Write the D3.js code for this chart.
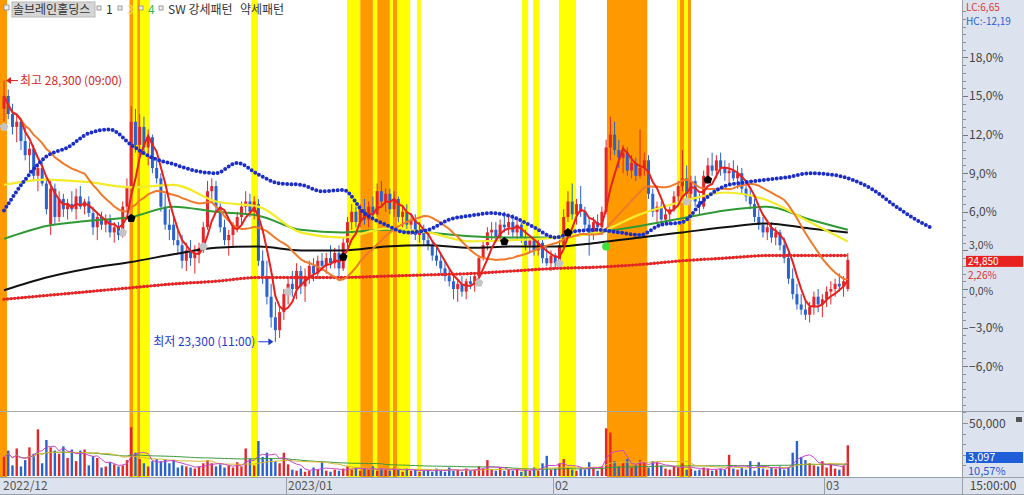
<!DOCTYPE html>
<html><head><meta charset="utf-8">
<script src="https://cdn.jsdelivr.net/npm/d3@7"></script>
<style>
body{margin:0;background:#fff;}
svg{display:block;}
text{font-family:"Liberation Sans Narrow","Noto Sans CJK KR","Liberation Sans",sans-serif;}
</style>
</head><body>
<svg id="c" width="1024" height="495"></svg>
<script>
// ---------- DATA (percent change vs. base 24,300) ----------
const opens=[14.0,15.0,13.6,12.6,13.0,11.5,10.4,10.9,8.8,9.4,8.2,5.0,7.8,5.6,7.0,6.2,6.6,6.2,7.2,6.4,6.8,5.9,4.8,5.6,5.0,5.4,4.4,4.8,4.2,6.4,
8.0,13.0,11.2,12.6,11.0,11.8,9.4,8.6,6.4,5.0,5.0,3.8,3.4,2.2,3.0,2.4,2.8,3.2,4.8,7.6,8.0,6.4,4.8,3.8,4.2,4.8,5.6,6.4,6.8,6.0,
6.6,2.2,1.0,-0.6,-2.2,-3.2,-1.8,-0.4,0.4,0.0,1.4,0.2,1.0,1.8,1.2,2.2,1.8,2.4,2.0,2.8,1.6,3.6,5.2,6.0,5.2,6.2,5.4,6.4,5.8,7.6,
6.8,7.4,6.2,7.0,5.6,6.0,5.0,5.4,4.2,4.6,3.8,3.4,2.6,2.2,1.6,1.0,0.6,0.0,0.4,-0.2,0.6,0.4,1.0,2.4,3.4,4.4,4.6,4.0,5.0,4.8,
5.2,4.4,5.0,4.0,3.4,3.8,3.0,3.6,2.4,2.0,2.6,2.0,3.4,5.6,6.8,5.8,6.6,6.0,5.0,4.2,5.2,4.8,6.0,11.0,12.0,10.8,10.2,10.6,9.2,9.8,
8.8,9.4,10.0,7.4,6.0,6.4,5.4,5.8,6.2,7.2,8.0,8.6,7.4,8.4,6.8,6.4,8.8,9.6,9.2,10.0,9.4,9.0,9.2,8.6,9.0,7.8,7.2,6.6,5.6,5.0,
4.4,4.8,4.0,4.4,3.4,2.4,0.8,-0.4,-1.2,-1.6,-2.0,-1.4,-0.6,-1.2,-0.8,-0.2,0.0,0.4,0.2,0.0];
const highs=[16.2,15.5,14.4,13.6,13.3,12.6,11.4,11.2,9.8,10.0,8.6,8.4,8.2,7.6,7.4,7.0,7.6,7.8,8.0,7.0,7.2,6.4,6.0,6.0,5.8,5.8,5.2,5.2,6.8,8.6,
14.2,14.0,13.6,13.4,12.4,12.0,10.0,9.0,7.4,6.2,5.6,4.6,4.2,3.6,3.8,3.4,3.6,5.2,8.4,8.6,8.4,6.8,5.4,4.6,5.2,6.0,6.8,7.6,7.4,7.2,
7.0,3.0,2.2,0.4,-1.0,-1.4,0.0,0.8,1.4,2.0,1.8,1.6,2.2,2.4,2.6,2.8,2.8,3.4,3.2,3.4,4.0,5.6,6.6,6.4,6.6,7.0,6.8,7.2,8.2,8.4,
7.8,7.8,7.6,7.2,6.4,6.6,5.8,5.8,5.2,5.0,4.4,3.8,3.4,2.8,2.2,1.6,1.2,0.8,1.0,0.8,1.0,1.2,2.6,3.8,4.8,5.2,5.2,5.4,6.0,5.6,
5.8,5.4,5.2,4.6,4.2,4.0,4.0,3.8,3.2,3.0,2.8,3.8,6.2,7.6,8.2,7.0,8.0,6.4,5.6,5.6,5.8,6.4,11.6,13.4,13.0,11.6,11.2,11.0,10.4,10.2,
12.4,10.6,10.4,7.8,6.8,6.8,6.2,6.4,7.6,8.4,10.8,9.6,8.8,8.8,7.4,9.2,10.2,10.6,10.4,10.6,10.0,9.8,10.0,9.6,9.4,8.4,7.8,7.0,6.2,5.6,
5.2,5.2,4.8,4.6,4.0,2.8,1.6,0.4,-0.4,-0.8,-1.0,-0.2,0.0,-0.4,0.2,0.6,0.8,1.2,1.0,2.8];
const lows=[13.0,13.2,12.0,11.4,10.8,10.0,9.0,8.4,7.6,8.0,5.8,4.2,5.0,5.2,5.6,5.4,6.0,5.4,6.2,5.8,5.6,4.2,3.8,4.6,4.4,4.0,3.6,3.8,4.0,6.0,
7.4,10.6,10.4,10.4,9.6,9.0,8.2,6.0,4.6,3.8,3.4,2.8,1.6,1.4,1.8,1.2,2.0,2.8,4.6,6.8,6.0,4.4,3.4,2.6,3.2,4.4,5.0,5.8,5.6,5.4,
1.8,0.4,-1.2,-3.0,-4.1,-3.8,-2.4,-1.2,-0.6,-0.8,-0.4,-1.0,0.4,0.6,0.8,1.4,1.2,1.6,1.6,1.0,1.4,3.2,4.6,4.8,4.8,5.0,4.8,5.4,5.6,6.4,
6.0,5.8,5.6,5.2,4.8,4.6,4.2,3.8,3.6,3.4,3.0,2.2,1.8,1.2,0.6,0.2,-0.8,-1.0,-0.6,-0.8,0.0,-0.2,0.8,2.2,3.0,3.8,3.6,3.8,4.4,4.2,
4.0,3.8,3.6,3.0,2.8,2.6,2.6,2.0,1.8,1.4,1.6,1.8,3.2,5.2,5.4,5.0,5.6,4.6,2.6,3.8,4.4,4.2,5.8,10.0,10.4,9.4,9.0,8.8,8.6,8.4,
8.6,8.8,7.0,5.6,5.2,5.0,5.0,5.0,6.0,6.6,7.6,7.0,6.8,6.4,5.8,6.2,8.4,8.8,8.6,8.8,8.4,8.2,8.4,7.8,7.4,6.8,6.2,5.2,4.6,4.0,
3.8,3.6,3.4,3.0,2.0,0.4,-0.8,-1.6,-2.0,-2.4,-2.6,-2.0,-1.8,-2.2,-1.4,-1.2,-0.6,-0.2,-0.6,-0.2];
const closes=[15.0,13.6,12.6,13.0,11.5,10.4,10.9,8.8,9.4,8.2,6.2,7.8,5.6,7.0,6.2,6.6,6.2,7.2,6.4,6.8,5.9,4.8,5.6,5.0,5.4,4.4,4.8,4.2,6.4,8.0,
13.0,11.2,12.6,11.0,11.8,9.4,8.6,6.4,5.0,4.6,3.8,3.4,2.2,3.0,2.4,2.8,3.2,4.8,7.6,8.0,6.4,4.8,3.8,4.2,4.8,5.6,6.4,6.8,6.0,6.8,
2.2,1.0,-0.6,-2.2,-3.2,-1.8,-0.4,0.4,0.0,1.4,0.2,1.0,1.8,1.2,2.2,1.8,2.4,2.0,2.8,1.6,3.6,5.2,6.0,5.2,6.2,5.4,6.4,5.8,7.6,6.8,
7.4,6.2,7.0,5.6,6.0,5.0,5.4,4.2,4.6,3.8,3.4,2.6,2.2,1.6,1.0,0.6,0.0,0.4,-0.2,0.6,0.4,1.0,2.4,3.4,4.4,4.6,4.0,5.0,4.8,5.2,
4.4,5.0,4.0,3.4,3.8,3.0,3.6,2.4,2.0,2.6,2.0,3.4,5.6,6.8,5.8,6.6,6.0,5.0,4.2,5.2,4.8,6.0,11.0,12.0,10.8,10.2,10.6,9.2,9.8,8.8,
9.4,10.0,7.4,6.0,6.4,5.4,5.8,6.2,7.2,8.0,8.6,7.4,8.4,6.8,6.4,8.8,9.6,9.2,10.0,9.4,9.0,9.2,8.6,9.0,7.8,7.2,6.6,5.6,5.0,4.4,
4.8,4.0,4.4,3.4,2.4,0.8,-0.4,-1.2,-1.6,-2.0,-1.4,-0.6,-1.2,-0.8,-0.2,0.0,0.4,0.2,0.6,2.26];
const volumes=[18000,24000,10000,26000,9000,15000,27000,21000,44000,12000,34000,27000,24000,21000,28000,17000,25000,14000,24000,25000,10000,19000,17000,8000,9000,13000,11000,9000,10000,15000,
46000,22000,16000,12000,9000,14000,16000,14000,16000,12000,15000,8000,10000,9000,8000,7000,9000,12000,15000,12000,9000,11000,8000,10000,8000,13000,9000,26000,16000,10000,
33000,18000,22000,17000,14000,12000,22000,11000,6000,5000,7000,4000,5000,8000,6000,13000,5000,4000,6000,5000,7000,9000,6000,8000,5000,7000,6000,9000,5000,7000,
6000,5000,8000,6000,4000,7000,5000,6000,4000,5000,6000,4000,7000,5000,4000,8000,5000,6000,4000,7000,5000,6000,9000,7000,15000,6000,5000,8000,5000,6000,
5000,7000,4000,6000,5000,8000,5000,12000,19000,6000,7000,12000,16000,8000,6000,5000,7000,6000,13000,8000,5000,9000,45000,41000,14000,9000,12000,16000,8000,10000,
15000,13000,8000,14000,13000,10000,7000,6000,9000,8000,12000,6000,7000,5000,6000,8000,7000,5000,6000,7000,6000,20000,7000,6000,8000,6000,14000,5000,13000,7000,
6000,8000,7000,9000,6000,8000,22000,33000,18000,15000,12000,10000,9000,14000,8000,12000,7000,6000,10000,29000];

// slow moving averages, at these candle indices
const slowIdx=[0,10,20,30,40,50,60,70,80,90,100,110,120,130,140,150,160,170,180,190,199];
const yellowMA=[8.1,8.5,8.3,7.9,8.1,6.8,6.4,4.4,4.0,4.7,4.4,3.7,3.8,4.0,4.4,5.8,6.8,7.5,6.9,5.2,3.7];
const greenMA=[3.9,4.9,5.3,5.6,6.4,6.0,5.7,4.6,4.4,4.6,4.4,4.1,4.0,4.0,4.4,4.9,5.5,6.1,6.4,5.4,4.6];
const blackMA=[-0.1,0.9,1.6,2.1,2.7,3.2,3.3,3.0,3.0,3.3,3.4,3.2,3.3,3.3,3.6,4.0,4.4,4.8,5.1,4.7,4.4];
const redDotMA=[-0.8,-0.5,-0.2,0.1,0.4,0.6,0.9,0.9,0.9,1.0,1.1,1.2,1.4,1.6,1.7,1.9,2.2,2.4,2.6,2.6,2.6];
const blueIdx=[0,5,10,15,20,25,30,35,40,45,50,55,60,65,70,75,80,85,90,95,100,105,110,115,120,125,130,135,140,145,150,155,160,165,170,175,180,185,190,195,200,205,210,215,219];
const blueDot=[6.1,8.5,10.3,11.0,12.1,12.4,11.2,10.2,9.7,9.2,9.0,9.8,8.9,8.2,8.1,7.6,7.7,5.9,5.0,4.4,4.6,5.4,5.7,5.9,5.6,4.8,4.0,4.5,4.6,4.4,4.2,5.0,5.2,6.9,8.0,8.3,8.5,8.7,9.0,8.9,8.5,7.7,6.5,5.4,4.7];

// signal periods (candle index ranges)
const orangeBands=[[-1,0.7],[29.6,30.5],[31.4,32.1],[84,87],[88,91],[91.7,92.7],[142.2,151.7],[159.4,160.4],[161.3,162]];
const yellowBands=[[30.5,31.4],[32.1,34.4],[58.3,59.9],[80.9,84],[87,88],[91,91.7],[92.7,95.8],[97.4,98.3],[122.2,123.6],[124.8,126.2],[130.9,134.9],[158.7,159.4],[160.4,161.3]];

// pattern markers
const strongIdx=[30,80,118,133,166], strongVal=[5.5,2.5,3.7,4.4,8.5];
const weakIdx=[0,28,47,67,112,131,161], weakVal=[12.6,4.4,3.3,-0.2,0.5,2.0,6.8];
const greenSigIdx=[142], greenSigVal=[3.3];

// axis labels
const pctTicks=[-6,-3,0,3,6,9,12,15,18];
const dateLabels=["2022/12","2023/01","02","03"];
const dateIdx=[-0.9,66.5,129.5,193.4];
const basePrice=24300, lastPrice=24850, lastPct="2,26%", lastVol="3,097", lastVolPct="10,57%";
const hiText="최고 28,300 (09:00)", loText="최저 23,300 (11:00)";
const title="솔브레인홀딩스";

// ---------- DRAW ----------
const svg=d3.select("#c");
const W=1024,H=495, PR=962, MB=411, VB=476, AX=477;
const N=closes.length;
const x=d3.scaleLinear().domain([0,226.4]).range([4,964]);
const y=d3.scaleLinear().domain([-9.48,22.46]).range([MB,0]);
const yv=d3.scaleLinear().domain([0,50000]).range([VB,423]);
const UP="#e4262a", DN="#2a62d0";
const col=i=>closes[i]>=opens[i]?UP:DN;

const defs=svg.append("defs");
defs.append("clipPath").attr("id","cm").append("rect").attr("x",0).attr("y",0).attr("width",PR).attr("height",MB);
defs.append("clipPath").attr("id","cv").append("rect").attr("x",0).attr("y",MB).attr("width",PR).attr("height",VB-MB+1);
defs.append("clipPath").attr("id","ca").append("rect").attr("x",0).attr("y",0).attr("width",PR).attr("height",AX);

svg.append("rect").attr("width",W).attr("height",H).attr("fill","#fff");

// bands
const gb=svg.append("g").attr("clip-path","url(#ca)");
gb.selectAll("rect.o").data(orangeBands).join("rect").attr("x",d=>x(d[0])).attr("width",d=>x(d[1])-x(d[0]))
  .attr("y",0).attr("height",AX).attr("fill","#ff9900");
gb.selectAll("rect.y").data(yellowBands).join("rect").attr("x",d=>x(d[0])).attr("width",d=>x(d[1])-x(d[0]))
  .attr("y",0).attr("height",AX).attr("fill","#ffff00");

// panel separator
svg.append("line").attr("x1",0).attr("x2",PR).attr("y1",MB+0.5).attr("y2",MB+0.5).attr("stroke","#a8a8a8");

// candles
const gm=svg.append("g").attr("clip-path","url(#cm)");
const idx=d3.range(N);
gm.selectAll("line.w").data(idx).join("line").attr("x1",i=>x(i)).attr("x2",i=>x(i))
  .attr("y1",i=>y(highs[i])).attr("y2",i=>y(lows[i])).attr("stroke",col).attr("stroke-width",1);
gm.selectAll("rect.b").data(idx).join("rect").attr("x",i=>x(i)-1.5).attr("width",3)
  .attr("y",i=>y(Math.max(opens[i],closes[i])))
  .attr("height",i=>Math.max(1,Math.abs(y(opens[i])-y(closes[i])))).attr("fill",col);

// moving averages
function ma(arr,n){return arr.map((v,i)=>{const s=arr.slice(Math.max(0,i-n+1),i+1);return d3.mean(s);});}
const ma5=ma(closes,5), ma20=ma(closes,20);
const lineIdx=(ix,vals,curve)=>d3.line().x((d,k)=>x(ix[k])).y(d=>y(d)).curve(curve||d3.curveMonotoneX)(vals);
gm.append("path").attr("d",lineIdx(slowIdx,redDotMA)).attr("fill","none").attr("stroke","#e52626").attr("stroke-width",1.6);
gm.append("path").attr("d",lineIdx(slowIdx,redDotMA)).attr("fill","none").attr("stroke","#e52626").attr("stroke-width",3.4)
  .attr("stroke-linecap","round").attr("stroke-dasharray","0 3.6");
gm.append("path").attr("d",lineIdx(slowIdx,blackMA)).attr("fill","none").attr("stroke","#111").attr("stroke-width",2);
gm.append("path").attr("d",lineIdx(slowIdx,greenMA)).attr("fill","none").attr("stroke","#2f9a35").attr("stroke-width",2);
gm.append("path").attr("d",lineIdx(slowIdx,yellowMA)).attr("fill","none").attr("stroke","#f4ec2a").attr("stroke-width",2.2);
gm.append("path").attr("d",lineIdx(idx,ma20,d3.curveLinear)).attr("fill","none").attr("stroke","#f07a2a").attr("stroke-width",2);
gm.append("path").attr("d",lineIdx(idx,ma5,d3.curveLinear)).attr("fill","none").attr("stroke","#e8201e").attr("stroke-width",2);
gm.append("path").attr("d",lineIdx(blueIdx,blueDot)).attr("fill","none").attr("stroke","#1c2ec6").attr("stroke-width",4)
  .attr("stroke-linecap","round").attr("stroke-dasharray","0 4.3");

// markers
const penta="M0,-4.5L4.3,-1.2L2.7,3.8L-2.7,3.8L-4.3,-1.2Z";
gm.selectAll("path.s").data(strongIdx).join("path").attr("d",penta)
  .attr("transform",(d,k)=>`translate(${x(d)},${y(strongVal[k])})`).attr("fill","#000");
gm.selectAll("path.wk").data(weakIdx).join("path").attr("d",penta)
  .attr("transform",(d,k)=>`translate(${x(d)},${y(weakVal[k])})`).attr("fill","#c4c4c4");
gm.selectAll("circle.g").data(greenSigIdx).join("circle").attr("cx",d=>x(d)).attr("cy",(d,k)=>y(greenSigVal[k]))
  .attr("r",4).attr("fill","#3ee03e");

// high / low annotations
const hiI=d3.maxIndex(highs), loI=d3.minIndex(lows);
const hy=y(highs[hiI]), hx=x(hiI)+2;
svg.append("line").attr("x1",hx+1).attr("x2",hx+12).attr("y1",hy).attr("y2",hy).attr("stroke","#e02020");
svg.append("path").attr("d",`M${hx},${hy}l5,-3.5l0,7z`).attr("fill","#e02020");
svg.append("text").attr("x",hx+14).attr("y",hy+4.5).attr("font-size",12).attr("fill","#d42828").text(hiText);
const ly=y(lows[loI]), lx=x(loI)-2;
svg.append("line").attr("x1",lx-15).attr("x2",lx-2).attr("y1",ly).attr("y2",ly).attr("stroke","#1a3ad0");
svg.append("path").attr("d",`M${lx},${ly}l-5,-3.5l0,7z`).attr("fill","#1a3ad0");
svg.append("text").attr("x",lx-18).attr("y",ly+4.5).attr("text-anchor","end").attr("font-size",12).attr("fill","#1a3ad0").text(loText);

// volume
const gv=svg.append("g").attr("clip-path","url(#cv)");
gv.selectAll("rect.v").data(idx).join("rect").attr("x",i=>x(i)-1.2).attr("width",2.4)
  .attr("y",i=>yv(volumes[i])).attr("height",i=>VB-yv(volumes[i])).attr("fill",col);
const vline=(vals,c)=>gv.append("path").attr("d",d3.line().x((d,k)=>x(k)).y(d=>yv(d))(vals))
  .attr("fill","none").attr("stroke",c).attr("stroke-width",1);
vline(ma(volumes,60),"#3b9a3b");
vline(ma(volumes,20),"#d8b830");
vline(ma(volumes,5),"#cc44cc");

// header
svg.append("rect").attr("x",4).attr("y",5).attr("width",5).attr("height",5).attr("fill","#eee").attr("stroke","#888").attr("stroke-width",0.8);
svg.append("rect").attr("x",12).attr("y",2).attr("width",83).attr("height",15).attr("fill","#d6d6d6").attr("stroke","#b8b8b8");
svg.append("text").attr("x",13).attr("y",14).attr("font-size",12).attr("fill","#333").attr("font-family","Noto Sans CJK KR").text(title);
const hdr=[{t:"1",c:"#222",bx:97},{t:"3",c:"#e8e070",bx:118},{t:"4",c:"#33b84a",bx:139},{t:"SW 강세패턴",c:"#333",bx:159},{t:"약세패턴",c:"#333",bx:null,tx:240}];
hdr.forEach(h=>{
  if(h.bx!==null){svg.append("rect").attr("x",h.bx).attr("y",6).attr("width",4).attr("height",4).attr("fill","#eee").attr("stroke","#888").attr("stroke-width",0.8);}
  svg.append("text").attr("x",h.tx||h.bx+9).attr("y",14).attr("font-size",12).attr("fill",h.c).text(h.t);
});

// right axis panel
svg.append("rect").attr("x",PR+1).attr("y",0).attr("width",W-PR-1).attr("height",H).attr("fill","#dde3ee");
svg.append("rect").attr("x",0).attr("y",AX).attr("width",PR+1).attr("height",H-AX).attr("fill","#dde3ee");
svg.append("line").attr("x1",PR+0.5).attr("x2",PR+0.5).attr("y1",0).attr("y2",H).attr("stroke","#9aa0aa");
svg.append("line").attr("x1",0).attr("x2",W).attr("y1",AX+0.5).attr("y2",AX+0.5).attr("stroke","#9aa0aa");
svg.append("line").attr("x1",PR).attr("x2",W).attr("y1",MB+0.5).attr("y2",MB+0.5).attr("stroke","#9aa0aa");
svg.append("line").attr("x1",0).attr("x2",W).attr("y1",H-0.5).attr("y2",H-0.5).attr("stroke","#9aa0aa");

const fmt=v=>d3.format(".1f")(v).replace(".",",")+"%";
const minor=d3.range(-9,22.2,0.6);
svg.selectAll("line.mt").data(minor).join("line").attr("x1",PR+1).attr("x2",PR+4)
  .attr("y1",d=>Math.round(y(d))+0.5).attr("y2",d=>Math.round(y(d))+0.5).attr("stroke","#8a909a");
svg.selectAll("line.Mt").data(pctTicks).join("line").attr("x1",PR+1).attr("x2",PR+6)
  .attr("y1",d=>Math.round(y(d))+0.5).attr("y2",d=>Math.round(y(d))+0.5).attr("stroke","#777");
svg.selectAll("text.pt").data(pctTicks).join("text").attr("x",PR+7).attr("y",d=>y(d)+(d===3?-1:d===0?6:4.5))
  .attr("font-size",d=>d===3||d===0?10.5:12).attr("fill","#444").text(fmt);

// volume axis
svg.selectAll("line.vt").data(d3.range(10000,60001,10000)).join("line").attr("x1",PR+1).attr("x2",d=>d===50000?PR+6:PR+4)
  .attr("y1",d=>Math.round(yv(d))+0.5).attr("y2",d=>Math.round(yv(d))+0.5).attr("stroke","#8a909a");
svg.append("text").attr("x",PR+7).attr("y",yv(50000)+4.5).attr("font-size",12).attr("fill","#444").text(d3.format(",")(50000));
svg.append("rect").attr("x",1016).attr("y",417).attr("width",6).attr("height",5).attr("fill","#555");

// price / volume tags
const py=y((lastPrice/basePrice-1)*100);
svg.append("rect").attr("x",PR+4).attr("y",py-4).attr("width",W-PR-5).attr("height",11).attr("fill","#e8231f");
svg.append("text").attr("x",PR+6).attr("y",py+5).attr("font-size",10).attr("fill","#fff").text(d3.format(",")(lastPrice));
svg.append("text").attr("x",PR+6).attr("y",py+19.5).attr("font-size",10).attr("fill","#e03030").text(lastPct);
svg.append("rect").attr("x",PR+4).attr("y",452).attr("width",W-PR-5).attr("height",11).attr("fill","#1f5ed8");
svg.append("text").attr("x",PR+6).attr("y",461).attr("font-size",11).attr("fill","#fff").text(lastVol);
svg.append("text").attr("x",PR+6).attr("y",475).attr("font-size",11).attr("fill","#2a5ad0").text(lastVolPct);
svg.append("text").attr("x",PR+4).attr("y",11).attr("font-size",10).attr("fill","#e03838").text("LC:6,65");
svg.append("text").attr("x",PR+4).attr("y",25).attr("font-size",10).attr("fill","#2a60d0").text("HC:-12,19");

// time axis
dateIdx.forEach((d,k)=>{
  const xx=Math.max(1,Math.round(x(d)));
  if(k>0) svg.append("line").attr("x1",xx+0.5).attr("x2",xx+0.5).attr("y1",AX).attr("y2",H).attr("stroke","#9aa0aa");
  svg.append("text").attr("x",xx+2).attr("y",490).attr("font-size",12).attr("fill","#555").text(dateLabels[k]);
});
svg.append("text").attr("x",993).attr("y",490).attr("text-anchor","middle").attr("font-size",12).attr("fill","#444").text("15:00:00");
</script>
</body></html>
